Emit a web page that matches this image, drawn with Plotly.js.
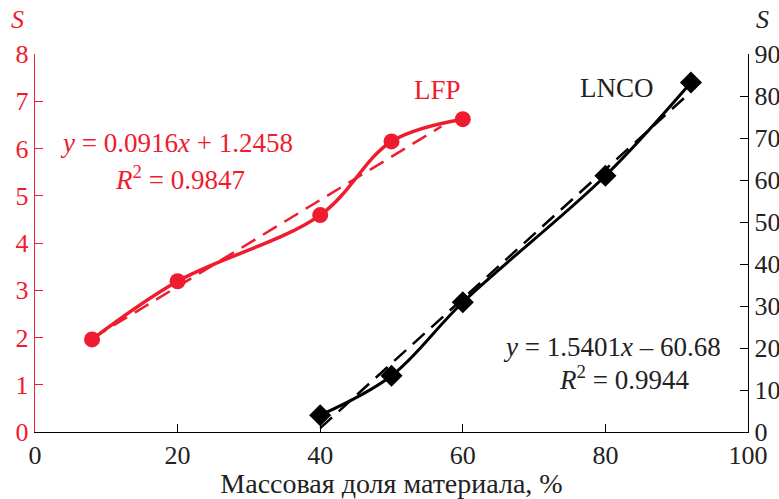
<!DOCTYPE html>
<html><head><meta charset="utf-8">
<script src="https://cdn.plot.ly/plotly-3.0.1.min.js"></script>
<style>html,body{margin:0;padding:0;background:#fff}#chart{width:779px;height:499px}</style>
</head><body><div id="chart"></div>
<script>
// Data
const lfpX = [8, 20, 40, 50, 60];
const lfpY = [1.96, 3.19, 4.59, 6.15, 6.62];
const lncoX = [40, 50, 60, 80, 92];
const lncoY = [4.0, 13.4, 30.9, 61.0, 83.2];
const lfpFitX = [8, 57];
const lfpSlope = 0.0916, lfpIntercept = 1.2458;
const lncoFitX = [40, 92];
const lncoSlope = 1.5401, lncoIntercept = -60.68;
const xTicks = [0, 20, 40, 60, 80, 100];
const yLeftTicks = [0, 1, 2, 3, 4, 5, 6, 7, 8];
const yRightTicks = [0, 10, 20, 30, 40, 50, 60, 70, 80, 90];

const RED = '#ee1c2e';
const FONT = '"Liberation Serif", "Times New Roman", Times, serif';
const FT = 26;   // tick labels
const FA = 27;   // annotations
const FX = 28;   // axis title

const lfpFitY = lfpFitX.map(x => lfpSlope * x + lfpIntercept);
const lncoFitY = lncoFitX.map(x => lncoSlope * x + lncoIntercept);

const traces = [
  {x: lfpFitX, y: lfpFitY, mode: 'lines', line: {color: RED, width: 2.5, dash: '16px,9px'}, yaxis: 'y', hoverinfo: 'skip'},
  {x: lfpX, y: lfpY, mode: 'lines+markers', line: {color: RED, width: 3.5, shape: 'spline', smoothing: 1}, marker: {symbol: 'circle', size: 16, color: RED}, yaxis: 'y'},
  {x: lncoFitX, y: lncoFitY, mode: 'lines', line: {color: '#000', width: 2.5, dash: '16px,9px'}, yaxis: 'y2', hoverinfo: 'skip'},
  {x: lncoX, y: lncoY, mode: 'lines+markers', line: {color: '#000', width: 3, shape: 'spline', smoothing: 1}, marker: {symbol: 'diamond', size: 17, color: '#000'}, yaxis: 'y2'}
];

const layout = {
  width: 779, height: 499,
  margin: {l: 35, r: 31, t: 54, b: 67},
  showlegend: false,
  paper_bgcolor: '#fff', plot_bgcolor: '#fff',
  font: {family: FONT, size: FT, color: '#000'},
  xaxis: {
    range: [0, 100], tickvals: xTicks, ticks: 'inside', ticklen: 8, tickcolor: '#000',
    showline: true, linecolor: '#000', linewidth: 1.2, showgrid: false, zeroline: false,
    tickfont: {family: FONT, size: FT, color: '#222'},
    title: {text: 'Массовая доля материала, %', font: {family: FONT, size: FX, color: '#222'}, standoff: 0}
  },
  yaxis: {
    range: [0, 8], tickvals: yLeftTicks, ticks: 'inside', ticklen: 8, tickcolor: RED,
    showline: true, linecolor: RED, linewidth: 1.2, showgrid: false, zeroline: false,
    tickfont: {family: FONT, size: FT, color: RED}
  },
  yaxis2: {
    range: [0, 90], tickvals: yRightTicks, overlaying: 'y', side: 'right', ticks: 'inside', ticklen: 8, tickcolor: '#000',
    showline: true, linecolor: '#000', linewidth: 1.2, showgrid: false, zeroline: false,
    tickfont: {family: FONT, size: FT, color: '#222'}
  },
  annotations: [
    {xref: 'paper', yref: 'paper', x: -0.024, y: 1.09, text: '<i>S</i>', showarrow: false, xanchor: 'center', yanchor: 'middle', font: {family: FONT, size: FT, color: RED}},
    {xref: 'paper', yref: 'paper', x: 1.02, y: 1.09, text: '<i>S</i>', showarrow: false, xanchor: 'center', yanchor: 'middle', font: {family: FONT, size: FT, color: '#222'}},
    {x: 19.9, y: 6.12, text: '<i>y</i> = 0.0916<i>x</i> + 1.2458', showarrow: false, font: {family: FONT, size: FA, color: RED}},
    {x: 20.3, y: 5.38, text: '<i>R</i><sup>2</sup> = 0.9847', showarrow: false, font: {family: FONT, size: FA, color: RED}},
    {x: 56.5, y: 7.24, text: 'LFP', showarrow: false, font: {family: FONT, size: FA, color: RED}},
    {x: 81.6, y: 7.28, text: 'LNCO', showarrow: false, font: {family: FONT, size: FA, color: '#222'}},
    {x: 80.9, y: 1.8, text: '<i>y</i> = 1.5401<i>x</i> – 60.68', showarrow: false, font: {family: FONT, size: FA, color: '#222'}},
    {x: 82.6, y: 1.14, text: '<i>R</i><sup>2</sup> = 0.9944', showarrow: false, font: {family: FONT, size: FA, color: '#222'}}
  ]
};

Plotly.newPlot('chart', traces, layout, {displayModeBar: false, staticPlot: true});
</script></body></html>
